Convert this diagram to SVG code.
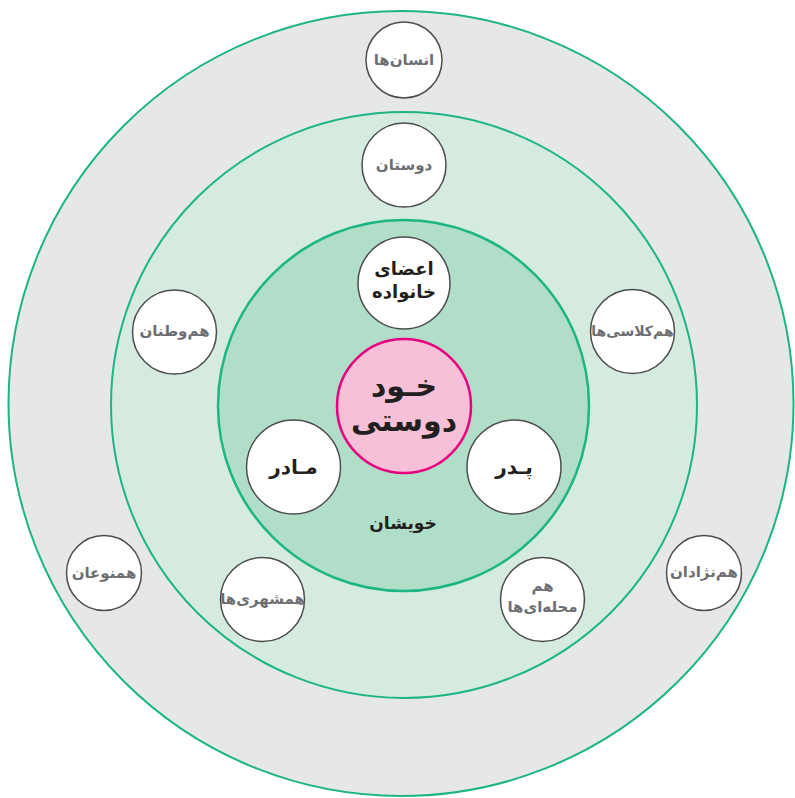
<svg xmlns="http://www.w3.org/2000/svg" width="795" height="798" viewBox="0 0 795 798">
<style>
.ring{stroke:#1db584;stroke-width:2}
.node{fill:#ffffff;stroke:#4d4d4f;stroke-width:1.5}
text{font-family:"DejaVu Sans","Noto Sans",sans-serif;font-weight:bold;text-anchor:middle;dominant-baseline:central}
.g{fill:#6d6e71;font-size:15px}
.d{fill:#231f20}
</style>
<rect x="0" y="0" width="795" height="798" fill="#ffffff"/>
<g id="ring-outer"><circle class="ring" cx="401" cy="403.5" r="392.5" fill="#e6e7e9"/></g>
<g id="ring-middle"><circle class="ring" cx="404" cy="405" r="293" fill="#d5ebdf"/></g>
<g id="ring-inner"><circle class="ring" cx="403.5" cy="405.5" r="185.5" fill="#b1dec9" style="stroke-width:2.5"/>
<text class="d" x="403" y="523" font-size="17">خویشان</text></g>
<g id="connectors"></g>
<g id="center"><circle cx="404" cy="406" r="67" fill="#f5c0d8" stroke="#e6007e" stroke-width="2.5"/>
<text class="d" x="404" y="385" font-size="30">خـود</text>
<text class="d" x="404" y="420" font-size="30">دوستی</text></g>
<g id="n-family"><circle class="node" cx="404" cy="283" r="46"/>
<text class="d" x="404" y="268" font-size="18">اعضای</text>
<text class="d" x="404" y="291" font-size="18">خانواده</text></g>
<g id="n-mother"><circle class="node" cx="293.5" cy="467" r="47"/>
<text class="d" x="293.5" y="467" font-size="20">مـادر</text></g>
<g id="n-father"><circle class="node" cx="514" cy="467" r="47"/>
<text class="d" x="514" y="467" font-size="20">پـدر</text></g>
<g id="n-friends"><circle class="node" cx="404" cy="165" r="42"/>
<text class="g" x="404" y="165" font-size="16">دوستان</text></g>
<g id="n-compatriots"><circle class="node" cx="174.5" cy="332" r="42"/>
<text class="g" x="174.5" y="331">هم‌وطنان</text></g>
<g id="n-classmates"><circle class="node" cx="632.5" cy="331.5" r="42"/>
<text class="g" x="632.5" y="331" style="font-size:14px">هم‌کلاسی‌ها</text></g>
<g id="n-citizens"><circle class="node" cx="262.5" cy="599.5" r="42"/>
<text class="g" x="262.5" y="599">همشهری‌ها</text></g>
<g id="n-neighbors"><circle class="node" cx="542.5" cy="599.5" r="42"/>
<text class="g" x="542.5" y="586">هم</text>
<text class="g" x="542.5" y="607">محله‌ای‌ها</text></g>
<g id="n-humans"><circle class="node" cx="404" cy="60" r="38"/>
<text class="g" x="404" y="60">انسان‌ها</text></g>
<g id="n-fellows"><circle class="node" cx="104" cy="573" r="37.5"/>
<text class="g" x="104" y="573">همنوعان</text></g>
<g id="n-race"><circle class="node" cx="704" cy="573" r="37.5"/>
<text class="g" x="704" y="572">هم‌نژادان</text></g>
</svg>
